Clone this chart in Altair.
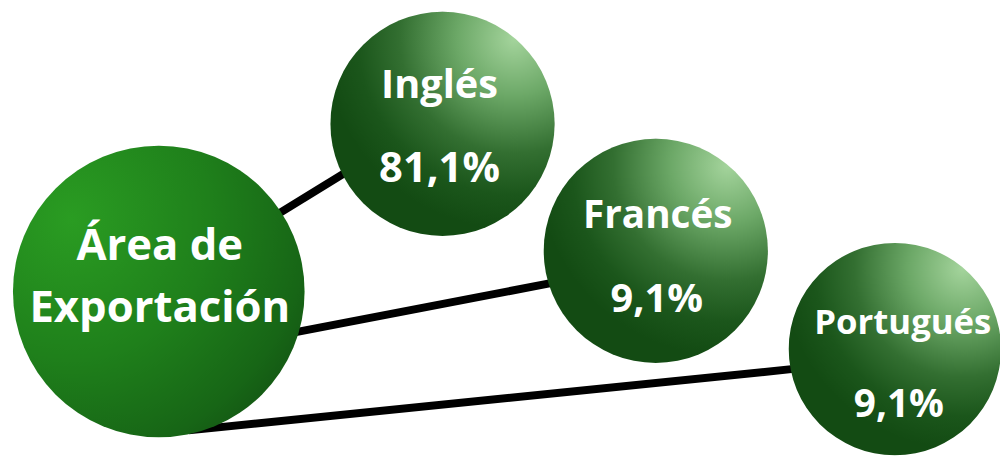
import altair as alt
import pandas as pd

# ---- content ----
hub_lines = ["Área de", "Exportación"]
categories = ["Inglés", "Francés", "Portugués"]
values = [81.1, 9.1, 9.1]

# ---- layout (reference pixel coordinates) ----
hub_x, hub_y, hub_r = 160, 292, 147
hub_text_y = [260, 323]
node_x = [446, 661, 902]
node_y = [123, 251, 350]
node_r = [113, 113, 107]
label_x = [443, 663, 910]
label_y = [97, 228, 335]
value_x = [443, 662, 906]
value_y = [182, 313, 418]
label_size = [40, 39, 35]
value_size = [42, 40, 39]
line_x1 = [280, 293, 190]
line_y1 = [214, 334, 432]
line_x2 = [348, 563, 800]
line_y2 = [172, 282, 370]

fmt = lambda v: f"{v:.1f}".replace(".", ",") + "%"

W, H = 1000, 454
xs = alt.Scale(domain=[8, 1008])
ys = alt.Scale(domain=[8, 462], reverse=True)


def X(f):
    return alt.X(f, type="quantitative", scale=xs, axis=None)


def Y(f):
    return alt.Y(f, type="quantitative", scale=ys, axis=None)


lines_df = pd.DataFrame({"x1": line_x1, "y1": line_y1, "x2": line_x2, "y2": line_y2})
hub_df = pd.DataFrame({"x": [hub_x], "y": [hub_y], "s": [(2 * hub_r) ** 2]})
nodes_df = pd.DataFrame({"x": node_x, "y": node_y, "s": [(2 * r) ** 2 for r in node_r]})
hub_text_df = pd.DataFrame({"x": [hub_x + 1] * 2, "y": hub_text_y, "t": hub_lines})
lab_df = pd.DataFrame({"x": label_x, "y": label_y, "t": categories, "fs": label_size})
val_df = pd.DataFrame({"x": value_x, "y": value_y, "t": [fmt(v) for v in values], "fs": value_size})

hub_grad = {
    "gradient": "radial",
    "x1": 0.2, "y1": 0.25, "r1": 0,
    "x2": 0.2, "y2": 0.25, "r2": 0.95,
    "stops": [
        {"offset": 0, "color": "#2a9c22"},
        {"offset": 0.5, "color": "#1f801b"},
        {"offset": 0.85, "color": "#176616"},
        {"offset": 1, "color": "#135413"},
    ],
}
node_grad = {
    "gradient": "radial",
    "x1": 0.82, "y1": 0.12, "r1": 0,
    "x2": 0.82, "y2": 0.12, "r2": 0.85,
    "stops": [
        {"offset": 0, "color": "#a4d49c"},
        {"offset": 0.3, "color": "#6ca867"},
        {"offset": 0.6, "color": "#336f31"},
        {"offset": 0.82, "color": "#1b561b"},
        {"offset": 1, "color": "#134b13"},
    ],
}

lines = alt.Chart(lines_df).mark_rule(color="black", strokeWidth=8, strokeCap="butt").encode(
    x=X("x1"), y=Y("y1"), x2="x2", y2="y2"
)
hub = alt.Chart(hub_df).mark_circle(fill=hub_grad, opacity=1, strokeWidth=0).encode(
    x=X("x"), y=Y("y"), size=alt.Size("s:Q", scale=None)
)
nodes = alt.Chart(nodes_df).mark_circle(fill=node_grad, opacity=1, strokeWidth=0).encode(
    x=X("x"), y=Y("y"), size=alt.Size("s:Q", scale=None)
)
font = "Open Sans"
hub_text = alt.Chart(hub_text_df).mark_text(
    font=font, fontWeight="bold", fontSize=44, color="white", baseline="alphabetic", align="center"
).encode(x=X("x"), y=Y("y"), text="t:N")
lab_text = alt.Chart(lab_df).mark_text(
    font=font, fontWeight="bold", color="white", baseline="alphabetic", align="center"
).encode(x=X("x"), y=Y("y"), text="t:N", size=alt.Size("fs:Q", scale=None))
val_text = alt.Chart(val_df).mark_text(
    font=font, fontWeight="bold", color="white", baseline="alphabetic", align="center"
).encode(x=X("x"), y=Y("y"), text="t:N", size=alt.Size("fs:Q", scale=None))

chart = (
    alt.layer(lines, hub, nodes, hub_text, lab_text, val_text)
    .properties(width=W, height=H, autosize=alt.AutoSizeParams(type="none"), padding=0,
                background="white")
    .configure_view(stroke="transparent", strokeWidth=0)
)
chart.save("out.html", embed_options={"renderer": "svg", "actions": False})
